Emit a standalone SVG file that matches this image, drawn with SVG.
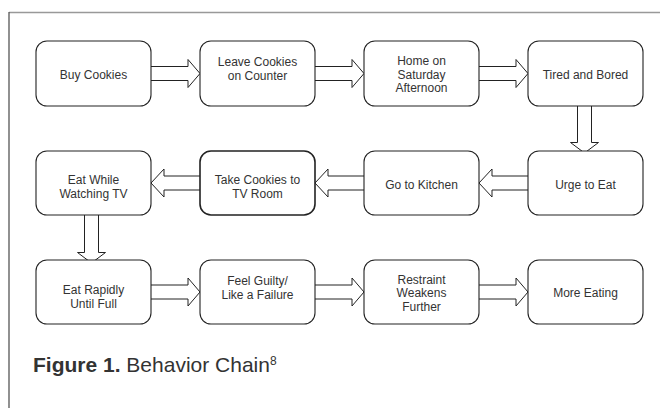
<svg xmlns="http://www.w3.org/2000/svg" width="660" height="408" viewBox="0 0 660 408">
  <style>
    .box { fill: #ffffff; stroke: #222222; stroke-width: 1.1; }
    .box.heavy { stroke-width: 1.6; }
    .arrow { fill: #ffffff; stroke: #222222; stroke-width: 1; stroke-linejoin: miter; }
    .label { font-family: "Liberation Sans", Arial, sans-serif; font-size: 12px; fill: #333333; text-anchor: middle; }
    .caption { font-family: "Liberation Sans", Arial, sans-serif; font-size: 21px; fill: #333333; }
  </style>

  <rect width="660" height="408" fill="#ffffff"/>

  <!-- figure frame -->
  <g id="frame">
    <line x1="9" y1="12.5" x2="660" y2="12.5" stroke="#999999" stroke-width="1.6"/>
    <line x1="9" y1="12" x2="9" y2="408" stroke="#555555" stroke-width="1.3"/>
  </g>

  <!-- block arrows -->
  <g id="connectors">
    <!-- row 1, left to right (cy = 73.5) -->
    <path class="arrow" d="M151,66.5 H188 V59.5 L200,73.5 L188,87.5 V80.5 H151"/>
    <path class="arrow" d="M315,66.5 H352 V59.5 L364,73.5 L352,87.5 V80.5 H315"/>
    <path class="arrow" d="M479,66.5 H516 V59.5 L528,73.5 L516,87.5 V80.5 H479"/>
    <!-- down from Tired and Bored -->
    <path class="arrow" d="M577.5,106 V142.5 H570.5 L584.5,153 L598.5,142.5 H591.5 V106"/>
    <!-- row 2, right to left (cy = 183) -->
    <path class="arrow" d="M528,176 H492 V169 L479,183 L492,197 V190 H528"/>
    <path class="arrow" d="M364,176 H328 V169 L315,183 L328,197 V190 H364"/>
    <path class="arrow" d="M200,176 H164 V169 L151,183 L164,197 V190 H200"/>
    <!-- down from Eat While Watching TV -->
    <path class="arrow" d="M84.5,215 V252.5 H77.5 L91.5,263 L105.5,252.5 H98.5 V215"/>
    <!-- row 3, left to right (cy = 292) -->
    <path class="arrow" d="M151,285 H188 V278 L200,292 L188,306 V299 H151"/>
    <path class="arrow" d="M315,285 H352 V278 L364,292 L352,306 V299 H315"/>
    <path class="arrow" d="M479,285 H516 V278 L528,292 L516,306 V299 H479"/>
  </g>

  <!-- row 1 -->
  <g id="buy-cookies">
    <rect class="box" x="36" y="41" width="115" height="65" rx="11"/>
    <text class="label" x="93.5" y="79">Buy Cookies</text>
  </g>
  <g id="leave-cookies">
    <rect class="box" x="200" y="41" width="115" height="65" rx="11"/>
    <text class="label" x="257.5" y="65.5">Leave Cookies</text>
    <text class="label" x="257.5" y="79.5">on Counter</text>
  </g>
  <g id="home-saturday">
    <rect class="box" x="364" y="41" width="115" height="65" rx="11"/>
    <text class="label" x="421.5" y="65">Home on</text>
    <text class="label" x="421.5" y="78.5">Saturday</text>
    <text class="label" x="421.5" y="92">Afternoon</text>
  </g>
  <g id="tired-bored">
    <rect class="box" x="528" y="41" width="115" height="65" rx="11"/>
    <text class="label" x="585.5" y="79">Tired and Bored</text>
  </g>

  <!-- row 2 -->
  <g id="eat-watching-tv">
    <rect class="box" x="36" y="151" width="115" height="64" rx="11"/>
    <text class="label" x="93.5" y="183.5">Eat While</text>
    <text class="label" x="93.5" y="197.5">Watching TV</text>
  </g>
  <g id="take-cookies">
    <rect class="box heavy" x="200" y="151" width="115" height="64" rx="11"/>
    <text class="label" x="257.5" y="184">Take Cookies to</text>
    <text class="label" x="257.5" y="197.5">TV Room</text>
  </g>
  <g id="go-kitchen">
    <rect class="box" x="364" y="151" width="115" height="64" rx="11"/>
    <text class="label" x="421.5" y="188.5">Go to Kitchen</text>
  </g>
  <g id="urge-eat">
    <rect class="box" x="528" y="151" width="115" height="64" rx="11"/>
    <text class="label" x="585.5" y="188.5">Urge to Eat</text>
  </g>

  <!-- row 3 -->
  <g id="eat-rapidly">
    <rect class="box" x="36" y="260" width="115" height="64" rx="11"/>
    <text class="label" x="93.5" y="293.5">Eat Rapidly</text>
    <text class="label" x="93.5" y="307.5">Until Full</text>
  </g>
  <g id="feel-guilty">
    <rect class="box" x="200" y="260" width="115" height="64" rx="11"/>
    <text class="label" x="257.5" y="284.5">Feel Guilty/</text>
    <text class="label" x="257.5" y="298.5">Like a Failure</text>
  </g>
  <g id="restraint-weakens">
    <rect class="box" x="364" y="260" width="115" height="64" rx="11"/>
    <text class="label" x="421.5" y="283.5">Restraint</text>
    <text class="label" x="421.5" y="297">Weakens</text>
    <text class="label" x="421.5" y="310.5">Further</text>
  </g>
  <g id="more-eating">
    <rect class="box" x="528" y="260" width="115" height="64" rx="11"/>
    <text class="label" x="585.5" y="297">More Eating</text>
  </g>

  <!-- caption -->
  <text class="caption" x="33" y="372"><tspan font-weight="bold">Figure 1.</tspan> Behavior Chain<tspan font-size="12" dy="-7">8</tspan></text>
</svg>
